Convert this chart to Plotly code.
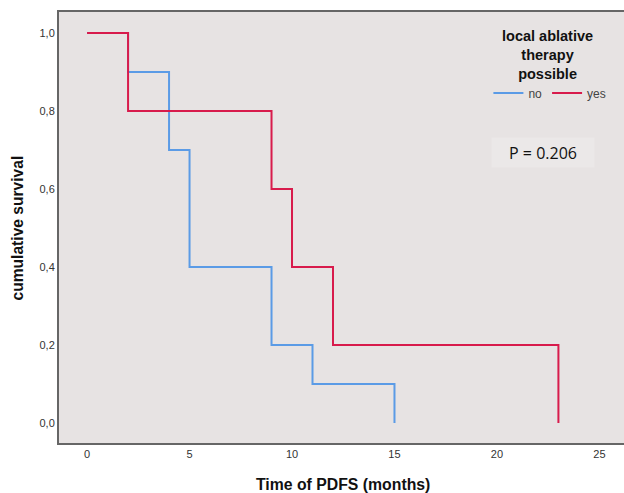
import plotly.graph_objects as go

# Kaplan-Meier step data
no_time = [0, 2, 4, 5, 9, 11, 15]
no_surv = [1.0, 0.9, 0.7, 0.4, 0.2, 0.1, 0.0]
yes_time = [0, 2, 9, 10, 12, 23]
yes_surv = [1.0, 0.8, 0.6, 0.4, 0.2, 0.0]

x_ticks = [0, 5, 10, 15, 20, 25]
y_ticks = [0.0, 0.2, 0.4, 0.6, 0.8, 1.0]
y_tick_labels = ["0,0", "0,2", "0,4", "0,6", "0,8", "1,0"]

BLUE = "#5B9BE6"
RED = "#D81B4C"

fig = go.Figure()
fig.add_trace(go.Scatter(x=no_time, y=no_surv, mode="lines", line_shape="hv",
                         line=dict(color=BLUE, width=2), name="no"))
fig.add_trace(go.Scatter(x=yes_time, y=yes_surv, mode="lines", line_shape="hv",
                         line=dict(color=RED, width=2), name="yes"))

# p-value box
fig.add_annotation(x=0.857, y=0.694, xref="paper", yref="y", xanchor="center", yanchor="middle",
                   text="P = 0.206", showarrow=False, width=102, height=29,
                   font=dict(family="Open Sans", size=16, color="#111"),
                   bgcolor="#EBE8E8", borderpad=0)
# legend title
fig.add_annotation(x=0.864, y=0.968, xref="paper", yref="paper", xanchor="center", yanchor="top",
                   text="<b>local ablative<br>therapy<br>possible</b>", align="center",
                   showarrow=False, font=dict(family="Liberation Sans, Arial", size=14.5, color="#111"))
# axis titles
fig.add_annotation(x=0.503, y=-0.097, xref="paper", yref="paper", xanchor="center",
                   yanchor="middle",
                   text="<b>Time of PDFS (months)</b>", showarrow=False,
                   font=dict(family="Liberation Sans, Arial", size=15.8, color="#111"))
fig.add_annotation(x=-0.0726, y=0.500, xref="paper", yref="paper", xanchor="center",
                   yanchor="middle", textangle=-90,
                   text="<b>cumulative survival</b>", showarrow=False,
                   font=dict(family="Liberation Sans, Arial", size=15.6, color="#111"))

fig.update_layout(
    width=624, height=493,
    margin=dict(l=59, r=0, t=12, b=50, autoexpand=False),
    paper_bgcolor="white",
    plot_bgcolor="#E7E3E3",
    font=dict(family="Liberation Sans, Arial", size=11, color="#333"),
    showlegend=True,
    legend=dict(
        orientation="h", x=0.76, xanchor="left", y=0.812, yanchor="middle",
        bgcolor="rgba(0,0,0,0)",
        font=dict(size=12, color="#444"),
        itemwidth=30, tracegroupgap=0,
    ),
    xaxis=dict(range=[-1.37, 26.2], tickvals=x_ticks, showgrid=False, zeroline=False,
               showline=True, linecolor="#666", linewidth=2, mirror=True, ticks="",
               automargin=False),
    yaxis=dict(range=[-0.051, 1.054], tickvals=y_ticks, ticktext=y_tick_labels,
               showgrid=False, zeroline=False, showline=True, linecolor="#666", linewidth=2,
               ticks="", automargin=False),
)

fig.write_html("out.html", config={"displayModeBar": False},
               post_script="document.body.style.margin='0';document.body.style.overflow='hidden';")
